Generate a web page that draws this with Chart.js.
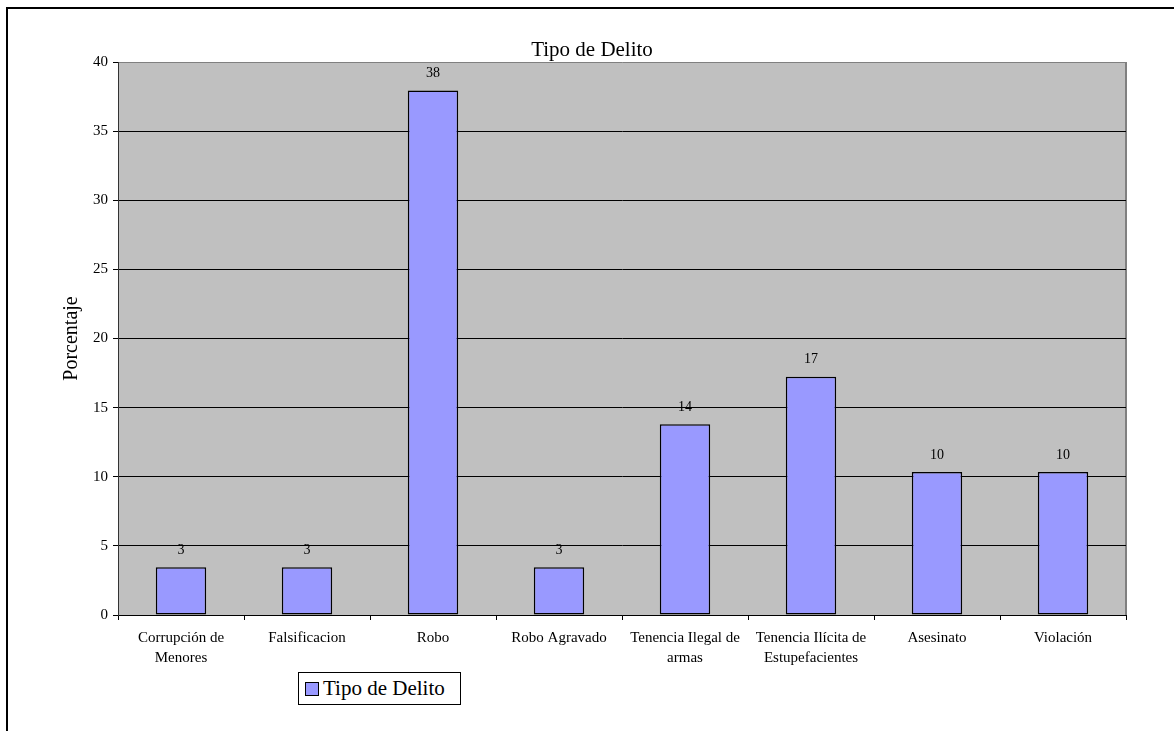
<!DOCTYPE html>
<html>
<head>
<meta charset="utf-8">
<script src="https://cdn.jsdelivr.net/npm/chart.js@4"></script>
<style>
  html, body { margin: 0; padding: 0; background: #fff; overflow: hidden; }
  #wrap { position: relative; width: 1174px; height: 731px; }
  #frame {
    position: absolute; left: 6px; top: 7px; width: 1200px; height: 800px;
    border: 2px solid #000; box-sizing: border-box;
  }
  #chart { position: absolute; left: 0; top: 0; }
  #legend {
    position: absolute; left: 298px; top: 672px; width: 163px; height: 33px;
    border: 1px solid #000; box-sizing: border-box; background: #fff;
    font: 21px "Liberation Serif", "Times New Roman", serif; color: #000;
  }
  #legend .swatch {
    position: absolute; left: 6px; top: 9px; width: 14px; height: 14px;
    border: 1px solid #000; box-sizing: border-box;
  }
  #legend .text { position: absolute; left: 24px; top: 3px; line-height: 24px; white-space: nowrap; }
</style>
</head>
<body>
<div id="wrap">
  <div id="frame"></div>
  <canvas id="chart" width="1174" height="731"></canvas>
  <div id="legend"></div>
</div>
<script>
const chartTitle = "Tipo de Delito";
const seriesLabel = "Tipo de Delito";
const categories = [
  ["Corrupción de", "Menores"],
  "Falsificacion",
  "Robo",
  "Robo Agravado",
  ["Tenencia Ilegal de", "armas"],
  ["Tenencia Ilícita de", "Estupefacientes"],
  "Asesinato",
  "Violación"
];
const percentages = [3.45, 3.45, 37.93, 3.45, 13.79, 17.24, 10.34, 10.34];
const yTicks = [0, 5, 10, 15, 20, 25, 30, 35, 40];

const barColor = "#9999FF";
const serif = "'Liberation Serif', 'Times New Roman', serif";

// grey plot area with its right-hand border
const plotBackground = {
  id: "plotBackground",
  beforeDraw(chart) {
    const { ctx, chartArea: a } = chart;
    ctx.save();
    ctx.fillStyle = "#C0C0C0";
    ctx.fillRect(a.left, a.top, a.width, a.height);
    ctx.strokeStyle = "#808080";
    ctx.lineWidth = 2;
    ctx.beginPath();
    ctx.moveTo(a.right, a.top);
    ctx.lineTo(a.right, a.bottom);
    ctx.stroke();
    ctx.restore();
  }
};

// rounded value above each bar, plus the chart heading
const barLabels = {
  id: "barLabels",
  afterDatasetsDraw(chart) {
    const { ctx } = chart;
    const meta = chart.getDatasetMeta(0);
    ctx.save();
    ctx.font = "14px " + serif;
    ctx.fillStyle = "#000";
    ctx.textAlign = "center";
    ctx.textBaseline = "middle";
    meta.data.forEach((bar, i) => {
      ctx.fillText(Math.round(percentages[i]).toString(), bar.x, bar.y - 17);
    });
    ctx.font = "21px " + serif;
    ctx.textBaseline = "alphabetic";
    ctx.fillText(chartTitle, 592, 56);
    ctx.restore();
  }
};

new Chart(document.getElementById("chart"), {
  type: "bar",
  data: {
    labels: categories,
    datasets: [{
      label: seriesLabel,
      data: percentages,
      backgroundColor: barColor,
      borderColor: "#000",
      borderWidth: 1.5,
      borderSkipped: false,
      barPercentage: 0.4,
      categoryPercentage: 1
    }]
  },
  options: {
    responsive: false,
    animation: false,
    events: [],
    layout: { padding: { left: 0, top: 62, right: 48, bottom: 0 } },
    plugins: {
      legend: { display: false },
      title: { display: false },
      tooltip: { enabled: false }
    },
    scales: {
      x: {
        offset: true,
        grid: { offset: true, drawOnChartArea: false, drawTicks: true, tickLength: 5, tickColor: "#000" },
        border: { color: "#000", width: 1 },
        ticks: {
          color: "#000",
          maxRotation: 0,
          autoSkip: false,
          padding: 8,
          font: { family: serif, size: 15, lineHeight: 1.33 }
        },
        afterFit(scale) { scale.height = 116; }
      },
      y: {
        min: 0,
        max: 40,
        afterBuildTicks(scale) { scale.ticks = yTicks.map(v => ({ value: v })); },
        grid: {
          color: ctx => (ctx.tick && ctx.tick.value === 40 ? "#808080" : "#000"),
          lineWidth: 1,
          drawTicks: true,
          tickLength: 5,
          tickColor: "#000"
        },
        border: { color: "#333", width: 1 },
        ticks: {
          color: "#000",
          padding: 5,
          font: { family: serif, size: 15 }
        },
        title: {
          display: true,
          text: "Porcentaje",
          color: "#000",
          padding: { top: 60, bottom: 0 },
          font: { family: serif, size: 20, lineHeight: 1.2 }
        },
        afterFit(scale) { scale.width = 118; }
      }
    }
  },
  plugins: [plotBackground, barLabels]
});

// legend box built from the dataset
const legend = document.getElementById("legend");
legend.innerHTML = '<span class="swatch" style="background:' + barColor + '"></span>' +
  '<span class="text">' + seriesLabel + "</span>";
</script>
</body>
</html>
